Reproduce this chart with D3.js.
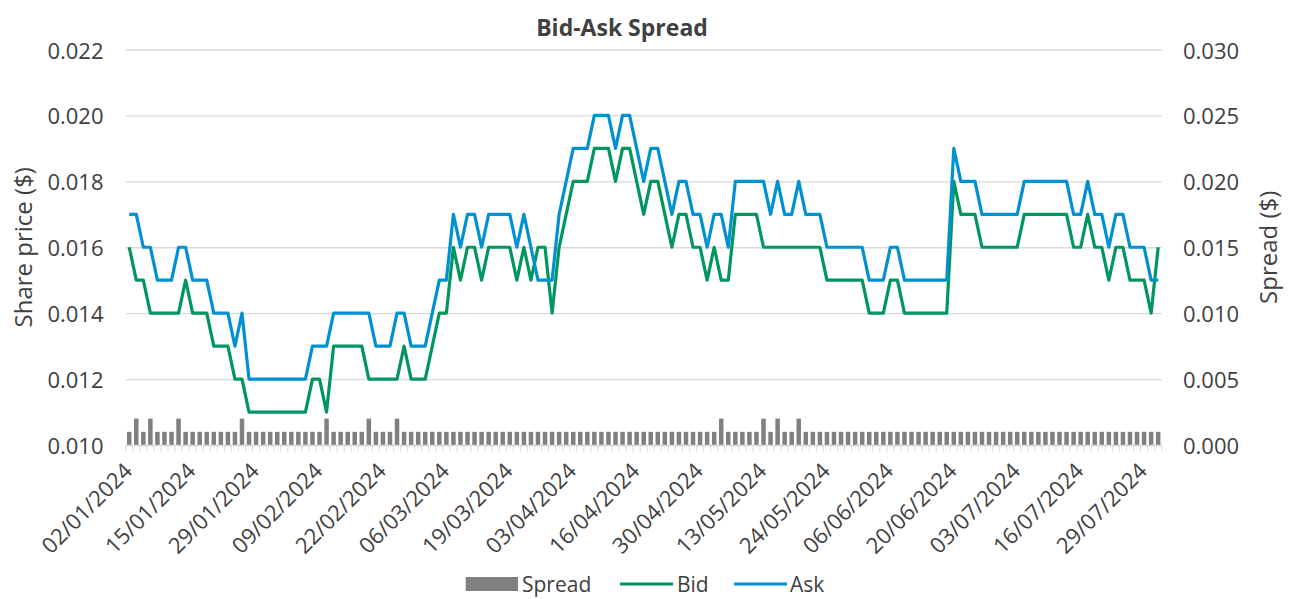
<!DOCTYPE html>
<html>
<head>
<meta charset="utf-8">
<script src="https://cdn.jsdelivr.net/npm/d3@7.9.0/dist/d3.min.js"></script>
<style>
  html, body { margin: 0; padding: 0; background: #fff; }
  svg { display: block; font-family: "Open Sans", "Noto Sans", sans-serif; }
  .tick-label { fill: #404040; font-size: 22px; }
  .axis-title { fill: #404040; font-size: 24px; }
  .legend-label { fill: #404040; font-size: 21px; }
</style>
</head>
<body>
<svg id="chart" width="1289" height="599"></svg>
<script>
// trading days, 2024 (DD/MM)
const tradingDays = [
  '02/01','03/01','04/01','05/01','08/01','09/01','10/01','11/01','12/01','15/01',
  '16/01','17/01','18/01','19/01','22/01','23/01','24/01','25/01','29/01','30/01',
  '31/01','01/02','02/02','05/02','06/02','07/02','08/02','09/02','12/02','13/02',
  '14/02','15/02','16/02','19/02','20/02','21/02','22/02','23/02','26/02','27/02',
  '28/02','29/02','01/03','04/03','05/03','06/03','07/03','08/03','11/03','12/03',
  '13/03','14/03','15/03','18/03','19/03','20/03','21/03','22/03','25/03','26/03',
  '27/03','28/03','02/04','03/04','04/04','05/04','08/04','09/04','10/04','11/04',
  '12/04','15/04','16/04','17/04','18/04','19/04','22/04','23/04','24/04','26/04',
  '29/04','30/04','01/05','02/05','03/05','06/05','07/05','08/05','09/05','10/05',
  '13/05','14/05','15/05','16/05','17/05','20/05','21/05','22/05','23/05','24/05',
  '27/05','28/05','29/05','30/05','31/05','03/06','04/06','05/06','06/06','07/06',
  '11/06','12/06','13/06','14/06','17/06','18/06','19/06','20/06','21/06','24/06',
  '25/06','26/06','27/06','28/06','01/07','02/07','03/07','04/07','05/07','08/07',
  '09/07','10/07','11/07','12/07','15/07','16/07','17/07','18/07','19/07','22/07',
  '23/07','24/07','25/07','26/07','29/07','30/07','31/07'
].map(d => d + '/2024');

const tickLabels = [
  '02/01/2024','15/01/2024','29/01/2024','09/02/2024','22/02/2024','06/03/2024',
  '19/03/2024','03/04/2024','16/04/2024','30/04/2024','13/05/2024','24/05/2024',
  '06/06/2024','20/06/2024','03/07/2024','16/07/2024','29/07/2024'
];

const ask = [
  0.017,0.017,0.016,0.016,0.015,0.015,0.015,0.016,0.016,0.015,
  0.015,0.015,0.014,0.014,0.014,0.013,0.014,0.012,0.012,0.012,
  0.012,0.012,0.012,0.012,0.012,0.012,0.013,0.013,0.013,0.014,
  0.014,0.014,0.014,0.014,0.014,0.013,0.013,0.013,0.014,0.014,
  0.013,0.013,0.013,0.014,0.015,0.015,0.017,0.016,0.017,0.017,
  0.016,0.017,0.017,0.017,0.017,0.016,0.017,0.016,0.015,0.015,
  0.015,0.017,0.018,0.019,0.019,0.019,0.020,0.020,0.020,0.019,
  0.020,0.020,0.019,0.018,0.019,0.019,0.018,0.017,0.018,0.018,
  0.017,0.017,0.016,0.017,0.017,0.016,0.018,0.018,0.018,0.018,
  0.018,0.017,0.018,0.017,0.017,0.018,0.017,0.017,0.017,0.016,
  0.016,0.016,0.016,0.016,0.016,0.015,0.015,0.015,0.016,0.016,
  0.015,0.015,0.015,0.015,0.015,0.015,0.015,0.019,0.018,0.018,
  0.018,0.017,0.017,0.017,0.017,0.017,0.017,0.018,0.018,0.018,
  0.018,0.018,0.018,0.018,0.017,0.017,0.018,0.017,0.017,0.016,
  0.017,0.017,0.016,0.016,0.016,0.015,0.015
];

const bid = [
  0.016,0.015,0.015,0.014,0.014,0.014,0.014,0.014,0.015,0.014,
  0.014,0.014,0.013,0.013,0.013,0.012,0.012,0.011,0.011,0.011,
  0.011,0.011,0.011,0.011,0.011,0.011,0.012,0.012,0.011,0.013,
  0.013,0.013,0.013,0.013,0.012,0.012,0.012,0.012,0.012,0.013,
  0.012,0.012,0.012,0.013,0.014,0.014,0.016,0.015,0.016,0.016,
  0.015,0.016,0.016,0.016,0.016,0.015,0.016,0.015,0.016,0.016,
  0.014,0.016,0.017,0.018,0.018,0.018,0.019,0.019,0.019,0.018,
  0.019,0.019,0.018,0.017,0.018,0.018,0.017,0.016,0.017,0.017,
  0.016,0.016,0.015,0.016,0.015,0.015,0.017,0.017,0.017,0.017,
  0.016,0.016,0.016,0.016,0.016,0.016,0.016,0.016,0.016,0.015,
  0.015,0.015,0.015,0.015,0.015,0.014,0.014,0.014,0.015,0.015,
  0.014,0.014,0.014,0.014,0.014,0.014,0.014,0.018,0.017,0.017,
  0.017,0.016,0.016,0.016,0.016,0.016,0.016,0.017,0.017,0.017,
  0.017,0.017,0.017,0.017,0.016,0.016,0.017,0.016,0.016,0.015,
  0.016,0.016,0.015,0.015,0.015,0.014,0.016
];

const spread = [
  0.001,0.002,0.001,0.002,0.001,0.001,0.001,0.002,0.001,0.001,
  0.001,0.001,0.001,0.001,0.001,0.001,0.002,0.001,0.001,0.001,
  0.001,0.001,0.001,0.001,0.001,0.001,0.001,0.001,0.002,0.001,
  0.001,0.001,0.001,0.001,0.002,0.001,0.001,0.001,0.002,0.001,
  0.001,0.001,0.001,0.001,0.001,0.001,0.001,0.001,0.001,0.001,
  0.001,0.001,0.001,0.001,0.001,0.001,0.001,0.001,0.001,0.001,
  0.001,0.001,0.001,0.001,0.001,0.001,0.001,0.001,0.001,0.001,
  0.001,0.001,0.001,0.001,0.001,0.001,0.001,0.001,0.001,0.001,
  0.001,0.001,0.001,0.001,0.002,0.001,0.001,0.001,0.001,0.001,
  0.002,0.001,0.002,0.001,0.001,0.002,0.001,0.001,0.001,0.001,
  0.001,0.001,0.001,0.001,0.001,0.001,0.001,0.001,0.001,0.001,
  0.001,0.001,0.001,0.001,0.001,0.001,0.001,0.001,0.001,0.001,
  0.001,0.001,0.001,0.001,0.001,0.001,0.001,0.001,0.001,0.001,
  0.001,0.001,0.001,0.001,0.001,0.001,0.001,0.001,0.001,0.001,
  0.001,0.001,0.001,0.001,0.001,0.001,0.001
];

const priceTicks = [0.010, 0.012, 0.014, 0.016, 0.018, 0.020, 0.022];
const spreadTicks = [0.000, 0.005, 0.010, 0.015, 0.020, 0.025, 0.030];

const colors = { spread: '#808080', bid: '#00965e', ask: '#0091d3' };

const plot = { left: 125.7, right: 1161.7, top: 49.5, bottom: 445 };

const rows = tradingDays.map((date, i) => ({ date, bid: bid[i], ask: ask[i], spread: spread[i] }));

const svg = d3.select('#chart');

const x = d3.scaleBand().domain(tradingDays).range([plot.left, plot.right]).padding(0);
const yPrice = d3.scaleLinear().domain([0.010, 0.022]).range([plot.bottom, plot.top]);
const ySpread = d3.scaleLinear().domain([0, 0.030]).range([plot.bottom, plot.top]);
const cx = d => x(d.date) + x.bandwidth() / 2;

// Gridlines
svg.append('g')
  .attr('class', 'gridlines')
  .attr('transform', `translate(${plot.left}, 0)`)
  .call(d3.axisLeft(yPrice).tickValues(priceTicks).tickFormat('').tickSize(-(plot.right - plot.left)))
  .call(g => g.select('.domain').remove())
  .call(g => g.selectAll('line').attr('stroke', '#d9d9d9').attr('stroke-width', 1.3));

// Spread bars
const barW = x.bandwidth() * 0.64;
svg.append('g')
  .selectAll('rect')
  .data(rows)
  .join('rect')
  .attr('x', d => cx(d) - barW / 2)
  .attr('width', barW)
  .attr('y', d => ySpread(d.spread))
  .attr('height', d => ySpread(0) - ySpread(d.spread))
  .attr('fill', colors.spread);

// X axis: line + a tick at every category boundary
const xAxis = svg.append('g').attr('class', 'x-axis');
xAxis.append('line')
  .attr('x1', plot.left).attr('x2', plot.right)
  .attr('y1', plot.bottom + 0.5).attr('y2', plot.bottom + 0.5)
  .attr('stroke', '#d9d9d9').attr('stroke-width', 1.3);
xAxis.selectAll('line.tk')
  .data(tradingDays.concat(['end']))
  .join('line')
  .attr('class', 'tk')
  .attr('x1', d => d === 'end' ? plot.right : x(d))
  .attr('x2', d => d === 'end' ? plot.right : x(d))
  .attr('y1', plot.bottom + 0.5).attr('y2', plot.bottom + 6.5)
  .attr('stroke', '#d9d9d9').attr('stroke-width', 1);

xAxis.selectAll('text')
  .data(tickLabels)
  .join('text')
  .attr('class', 'tick-label')
  .attr('text-anchor', 'end')
  .attr('dominant-baseline', 'central')
  .attr('transform', d => `translate(${x(d) + x.bandwidth() / 2 - 2}, ${plot.bottom + 21}) rotate(-45)`)
  .text(d => d);

// Lines
const lineOf = key => d3.line().x(cx).y(d => yPrice(d[key]));
svg.append('path')
  .datum(rows)
  .attr('fill', 'none')
  .attr('stroke', colors.bid)
  .attr('stroke-width', 3.2)
  .attr('stroke-linejoin', 'round')
  .attr('d', lineOf('bid'));
svg.append('path')
  .datum(rows)
  .attr('fill', 'none')
  .attr('stroke', colors.ask)
  .attr('stroke-width', 3.2)
  .attr('stroke-linejoin', 'round')
  .attr('d', lineOf('ask'));

// Left axis labels
svg.append('g')
  .selectAll('text')
  .data(priceTicks)
  .join('text')
  .attr('class', 'tick-label')
  .attr('x', 103.5)
  .attr('y', d => yPrice(d))
  .attr('text-anchor', 'end')
  .attr('dominant-baseline', 'central')
  .text(d => d3.format('.3f')(d));

// Right axis labels
svg.append('g')
  .selectAll('text')
  .data(spreadTicks)
  .join('text')
  .attr('class', 'tick-label')
  .attr('x', 1183)
  .attr('y', d => ySpread(d))
  .attr('text-anchor', 'start')
  .attr('dominant-baseline', 'central')
  .text(d => d3.format('.3f')(d));

// Axis titles
svg.append('text')
  .attr('class', 'axis-title')
  .attr('transform', `translate(22, ${(plot.top + plot.bottom) / 2}) rotate(-90)`)
  .attr('text-anchor', 'middle')
  .attr('dominant-baseline', 'central')
  .text('Share price ($)');

svg.append('text')
  .attr('class', 'axis-title')
  .attr('transform', `translate(1267, ${(plot.top + plot.bottom) / 2}) rotate(-90)`)
  .attr('text-anchor', 'middle')
  .attr('dominant-baseline', 'central')
  .text('Spread ($)');

// Title
svg.append('text')
  .attr('x', 622)
  .attr('y', 27)
  .attr('text-anchor', 'middle')
  .attr('dominant-baseline', 'central')
  .attr('fill', '#404040')
  .style('font-size', '23px')
  .style('font-weight', 'bold')
  .text('Bid-Ask Spread');

// Legend
const legend = svg.append('g').attr('class', 'legend');
const ly = 584;
legend.append('rect')
  .attr('x', 465.7).attr('y', ly - 7).attr('width', 52.3).attr('height', 14)
  .attr('fill', colors.spread);
legend.append('text').attr('class', 'legend-label')
  .attr('x', 522).attr('y', ly).attr('dominant-baseline', 'central').text('Spread');
legend.append('line')
  .attr('x1', 620).attr('x2', 673).attr('y1', ly).attr('y2', ly)
  .attr('stroke', colors.bid).attr('stroke-width', 3.2);
legend.append('text').attr('class', 'legend-label')
  .attr('x', 677).attr('y', ly).attr('dominant-baseline', 'central').text('Bid');
legend.append('line')
  .attr('x1', 734).attr('x2', 787).attr('y1', ly).attr('y2', ly)
  .attr('stroke', colors.ask).attr('stroke-width', 3.2);
legend.append('text').attr('class', 'legend-label')
  .attr('x', 790).attr('y', ly).attr('dominant-baseline', 'central').text('Ask');
</script>
</body>
</html>
